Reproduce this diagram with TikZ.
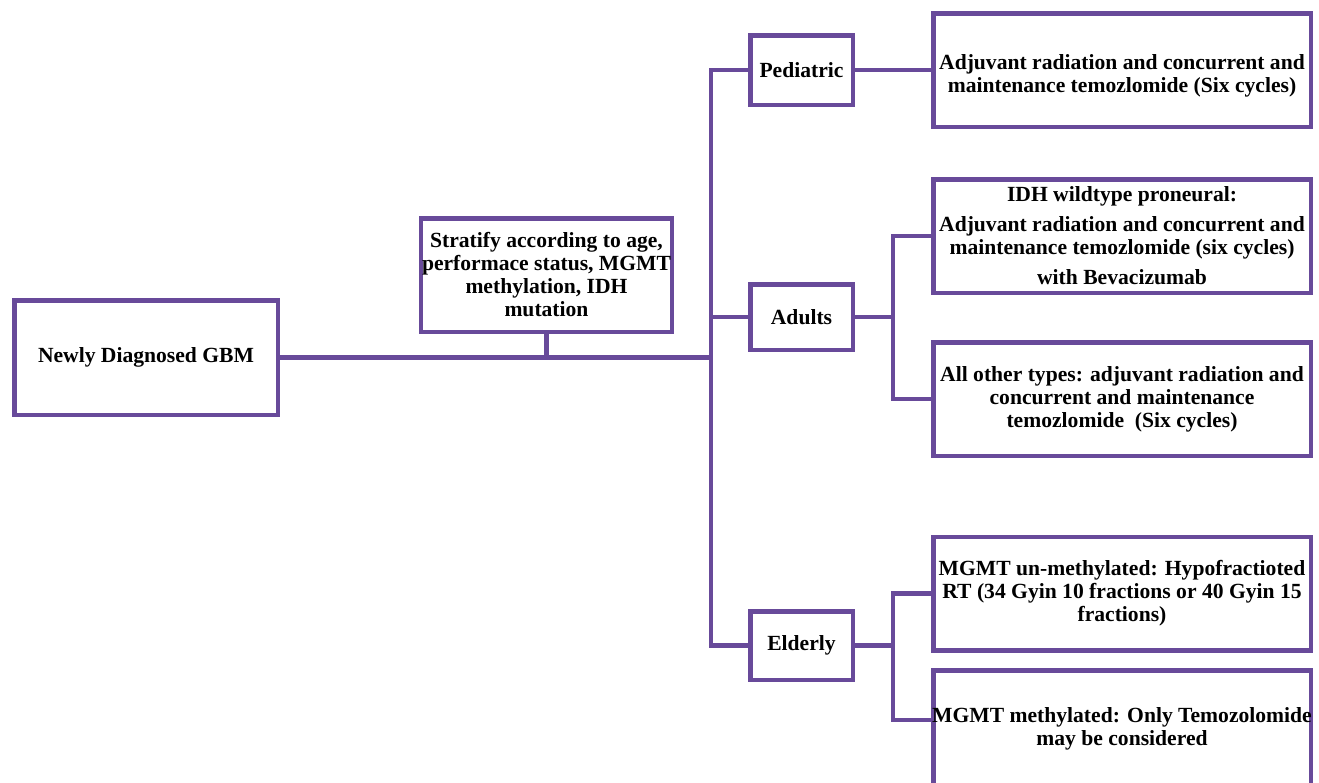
\documentclass[tikz,border=0pt]{standalone}
\usepackage{fontspec}
\setmainfont{Liberation Serif}
\definecolor{gbmpurple}{RGB}{104,74,154}
\tikzset{
  box/.style={draw=gbmpurple, line width=4.5pt, fill=white, align=center,
    font=\bfseries\fontsize{21.6}{23}\selectfont, inner sep=1pt},
  link/.style={draw=gbmpurple, line width=4.5pt},
  widebox/.style={box, minimum width=377.5pt, minimum height=113.5pt},
  catbox/.style={box, minimum width=102.5pt},
}
\begin{document}
\begin{tikzpicture}[x=1pt,y=-1pt]
\useasboundingbox (0,0) rectangle (1319,782);
\node[box, minimum width=263.5pt, minimum height=114.5pt] (gbm) at (146,357.5) {Newly Diagnosed GBM};
\node[box, minimum width=248.5pt, minimum height=113.5pt] (strat) at (546.5,275) {Stratify according to age,\\performace status, MGMT\\methylation, IDH\\mutation};
\node[catbox, minimum height=69.5pt] (ped) at (801.5,70) {Pediatric};
\node[catbox, minimum height=65.5pt] (adults) at (801.5,317) {Adults};
\node[catbox, minimum height=68.5pt] (elderly) at (801.5,645.5) {Elderly};
\node[widebox] (pedtx) at (1122,70) {\rule{0pt}{26pt}Adjuvant radiation and concurrent and\\maintenance temozlomide (Six cycles)};
\node[widebox] (idh) at (1122,236) {IDH wildtype proneural:\\[7pt]Adjuvant radiation and concurrent and\\maintenance temozlomide (six cycles)\\[7pt]with Bevacizumab};
\node[widebox] (other) at (1122,399) {All other types: adjuvant radiation and\\concurrent and maintenance\\temozlomide\ \ (Six cycles)};
\node[widebox] (unmeth) at (1122,593.5) {MGMT un-methylated: Hypofractioted\\RT (34 Gyin 10 fractions or 40 Gyin 15\\fractions)};
\node[widebox, minimum height=117.5pt] (meth) at (1122,729) {\makebox[360pt]{MGMT methylated: Only Temozolomide}\\may be considered};
\coordinate (trunk) at (711,357.5);
\coordinate (abr) at (893,317);
\coordinate (ebr) at (893,645.5);
\draw[link] (gbm.east) -- (trunk);
\draw[link] (strat.south) -- (strat.south |- trunk);
\draw[link] (ped.west) -| (trunk) |- (elderly.west);
\draw[link] (adults.west) -- (adults.west -| trunk);
\draw[link] (ped.east) -- (pedtx.west);
\draw[link] (idh.west) -| (abr) |- (other.west);
\draw[link] (adults.east) -- (abr);
\draw[link] (unmeth.west) -| (ebr) |- ([yshift=9pt]meth.west);
\draw[link] (elderly.east) -- (ebr);
\end{tikzpicture}
\end{document}
